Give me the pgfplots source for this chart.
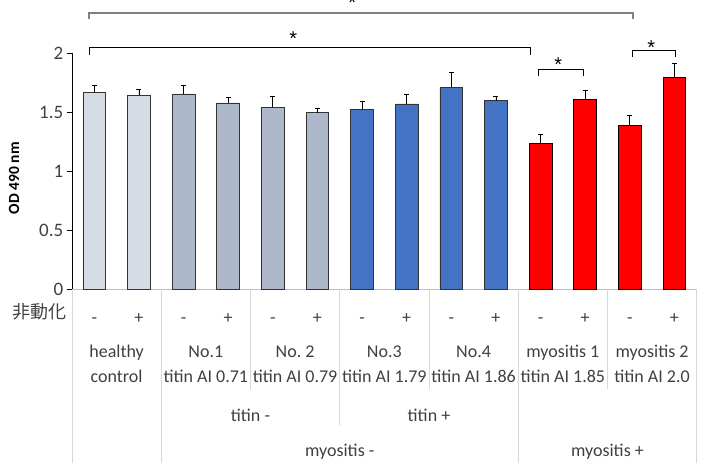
\documentclass[border=0pt]{standalone}
\usepackage{fontspec}
\setmainfont{Carlito}
\newfontfamily\cjk{Noto Sans CJK JP}
\newfontfamily\starfont{Liberation Sans}
\usepackage{pgfplots}
\usepackage{pgfplotstable}
\pgfplotsset{compat=1.18}

\definecolor{hc}{HTML}{D6DCE5}
\definecolor{tneg}{HTML}{ADB9CA}
\definecolor{tpos}{HTML}{4472C4}
\definecolor{myo}{HTML}{FF0000}
\definecolor{sepc}{HTML}{D9D9D9}
\definecolor{axc}{HTML}{BFBFBF}
\definecolor{brk}{HTML}{808080}
\definecolor{txt}{HTML}{404040}

\pgfplotstableread{
x y err
0 1.670 0.059
1 1.644 0.048
}\healthy
\pgfplotstableread{
x y err
2 1.655 0.071
3 1.579 0.045
4 1.542 0.094
5 1.497 0.034
}\titinneg
\pgfplotstableread{
x y err
6 1.520 0.076
7 1.570 0.079
8 1.712 0.128
9 1.599 0.034
}\titinpos
\pgfplotstableread{
x y err
10 1.234 0.076
11 1.610 0.077
12 1.389 0.088
13 1.797 0.119
}\myositis

\newcommand{\lbl}{\fontsize{18bp}{25bp}\selectfont}
\newcommand{\st}{\starfont\fontsize{20bp}{22bp}\selectfont}

\begin{document}
\begin{tikzpicture}
\begin{axis}[
  scale only axis, width=624.7bp, height=235.7bp,
  xmin=-0.5, xmax=13.5, ymin=0, ymax=2,
  clip=false,
  axis x line*=bottom, axis y line*=left,
  axis line style={-},
  x axis line style={draw=axc, line width=0.8bp},
  y axis line style={draw=black, line width=0.8bp},
  xtick={0,...,13},
  xticklabels={-,+,-,+,-,+,-,+,-,+,-,+,-,+},
  x tick style={draw=none},
  xticklabel style={font=\lbl, text=txt, anchor=center, yshift=-26bp, text height=1.5ex, text depth=0.25ex},
  ytick={0,0.5,1,1.5,2},
  y tick style={draw=black, line width=0.8bp},
  tick align=outside,
  major tick length=5.3bp,
  yticklabel style={font=\fontsize{19bp}{22bp}\selectfont, text=txt},
  /pgf/number format/assume math mode=true,
  ylabel={OD 490 nm},
  ylabel style={at={(axis description cs:-0.0928,0.47)}, anchor=center, font=\fontsize{15.5bp}{17bp}\selectfont\bfseries},
  every axis plot/.append style={ybar, bar shift=0pt, bar width=0.51, draw=black!80, line width=0.8bp},
  error bars/error bar style={black, line width=0.8bp},
  error bars/error mark options={rotate=90, black, mark size=2.5bp, line width=0.8bp},
]
\addplot[fill=hc, error bars/.cd, y dir=plus, y explicit] table[x=x, y=y, y error=err] {\healthy};
\addplot[fill=tneg, error bars/.cd, y dir=plus, y explicit] table[x=x, y=y, y error=err] {\titinneg};
\addplot[fill=tpos, error bars/.cd, y dir=plus, y explicit] table[x=x, y=y, y error=err] {\titinpos};
\addplot[fill=myo, draw=black, error bars/.cd, y dir=plus, y explicit] table[x=x, y=y, y error=err] {\myositis};

% category separators
\draw[sepc, line width=0.8bp] (axis cs:-0.5,0) -- (axis cs:-0.5,-1.6);
\draw[sepc, line width=0.8bp] (axis cs:1.5,0) -- (axis cs:1.5,-1.6);
\draw[sepc, line width=0.8bp] (axis cs:3.5,0) -- (axis cs:3.5,-0.857);
\draw[sepc, line width=0.8bp] (axis cs:5.5,0) -- (axis cs:5.5,-1.154);
\draw[sepc, line width=0.8bp] (axis cs:7.5,0) -- (axis cs:7.5,-0.845);
\draw[sepc, line width=0.8bp] (axis cs:9.5,0) -- (axis cs:9.5,-1.6);
\draw[sepc, line width=0.8bp] (axis cs:11.5,0) -- (axis cs:11.5,-0.845);
\draw[sepc, line width=0.8bp] (axis cs:13.5,0) -- (axis cs:13.5,-1.6);

% row labels
\node[font=\lbl, text=txt, anchor=east, inner sep=0pt, text height=1.5ex, text depth=0.25ex] at (axis cs:-0.619,-0.221) {\cjk 非動化};
\node[font=\lbl, text=txt, align=center] at (axis cs:0.5,-0.636) {healthy\\control};
\node[font=\lbl, text=txt, align=center] at (axis cs:2.5,-0.636) {No.1\\titin AI 0.71};
\node[font=\lbl, text=txt, align=center] at (axis cs:4.5,-0.636) {No.\ 2\\titin AI 0.79};
\node[font=\lbl, text=txt, align=center] at (axis cs:6.5,-0.636) {No.3\\titin AI 1.79};
\node[font=\lbl, text=txt, align=center] at (axis cs:8.5,-0.636) {No.4\\titin AI 1.86};
\node[font=\lbl, text=txt, align=center] at (axis cs:10.5,-0.636) {myositis 1\\titin AI 1.85};
\node[font=\lbl, text=txt, align=center] at (axis cs:12.5,-0.636) {myositis 2\\titin AI 2.0};
\node[font=\lbl, text=txt] at (axis cs:3.5,-1.069) {titin -};
\node[font=\lbl, text=txt] at (axis cs:7.5,-1.069) {titin +};
\node[font=\lbl, text=txt] at (axis cs:5.5,-1.383) {myositis -};
\node[font=\lbl, text=txt] at (axis cs:11.5,-1.383) {myositis +};

% significance brackets
\draw[brk, line width=2bp] (axis cs:-0.112,2.292) -- (axis cs:-0.112,2.346) -- (axis cs:12.07,2.346) -- (axis cs:12.07,2.292);
\node[font=\st, anchor=base, inner sep=0pt] at (axis cs:5.78,2.372) {*};
\draw[black, line width=0.9bp] (axis cs:-0.112,1.986) -- (axis cs:-0.112,2.048) -- (axis cs:9.77,2.048) -- (axis cs:9.77,1.986);
\node[font=\st, anchor=base, inner sep=0pt] at (axis cs:4.46,2.067) {*};
\draw[black, line width=0.9bp] (axis cs:9.955,1.806) -- (axis cs:9.955,1.865) -- (axis cs:10.96,1.865) -- (axis cs:10.96,1.806);
\node[font=\st, anchor=base, inner sep=0pt] at (axis cs:10.40,1.845) {*};
\draw[black, line width=0.9bp] (axis cs:12.07,1.969) -- (axis cs:12.07,2.026) -- (axis cs:13.02,2.026) -- (axis cs:13.02,1.969);
\node[font=\st, anchor=base, inner sep=0pt] at (axis cs:12.48,1.988) {*};
\end{axis}
\pgfresetboundingbox
\path[use as bounding box] (-72bp,-174bp) rectangle (635bp,289bp);
\end{tikzpicture}
\end{document}
